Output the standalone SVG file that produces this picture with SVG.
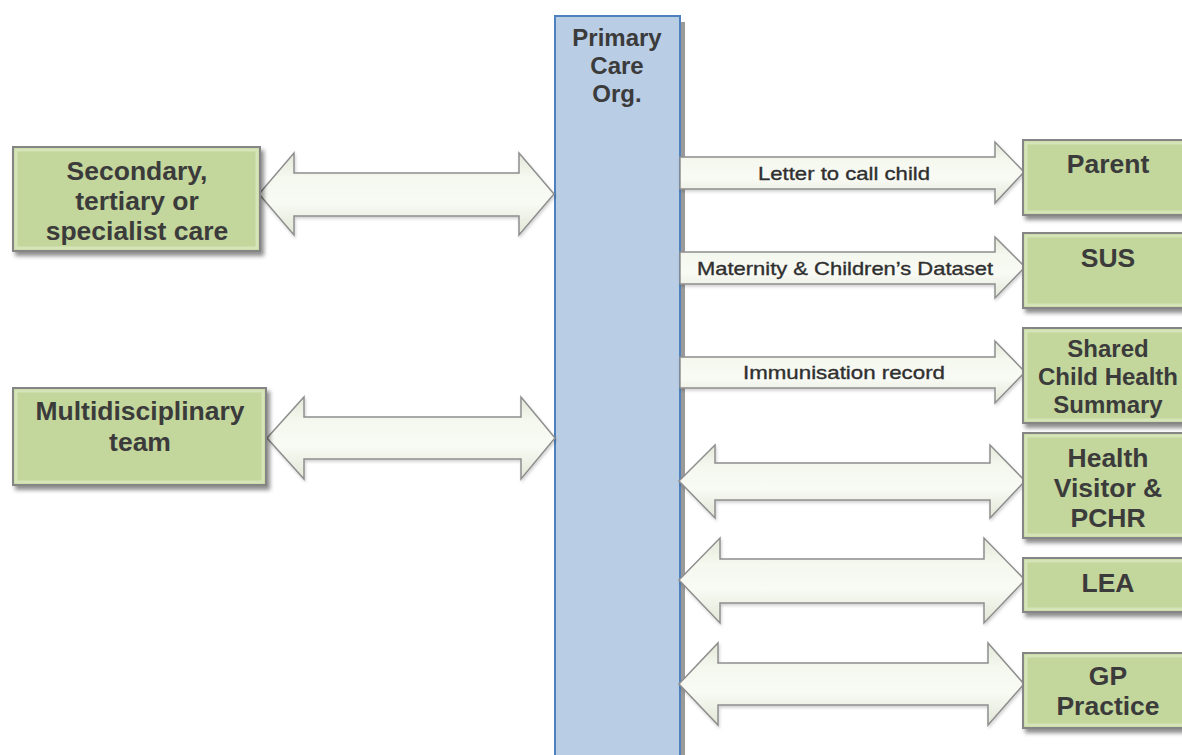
<svg xmlns="http://www.w3.org/2000/svg" width="1182" height="755" viewBox="0 0 1182 755">
  <defs>
    <linearGradient id="arrowFill" x1="0" y1="0" x2="0" y2="1">
      <stop offset="0" stop-color="#e4e9d9"/>
      <stop offset="0.3" stop-color="#f5f8ef"/>
      <stop offset="0.6" stop-color="#f8faf4"/>
      <stop offset="1" stop-color="#e2e7d6"/>
    </linearGradient>
    <filter id="boxShadow" x="-10%" y="-10%" width="125%" height="130%">
      <feDropShadow dx="3" dy="4" stdDeviation="2" flood-color="#000" flood-opacity="0.45"/>
    </filter>
    <filter id="arrowShadow" x="-5%" y="-10%" width="110%" height="130%">
      <feDropShadow dx="1" dy="2" stdDeviation="1.5" flood-color="#000" flood-opacity="0.18"/>
    </filter>
  </defs>
  <style>
    .node { fill: #c3d69b; stroke: #858585; stroke-width: 2; filter: url(#boxShadow); }
    .bevel { fill: none; stroke: #d6e4b9; stroke-width: 3; }
    .pco { fill: #b9cde5; stroke: #4f81bd; stroke-width: 2; }
    .label { font-family: "Liberation Sans", Arial, sans-serif; font-weight: bold; fill: #3b3b3b; text-anchor: middle; }
    .big { font-size: 26.5px; }
    .mid { font-size: 24px; }
    .arrow { fill: url(#arrowFill); stroke: #8e8e8e; stroke-width: 1.5; stroke-linejoin: miter; filter: url(#arrowShadow); }
    .alabel { font-family: "Liberation Sans", Arial, sans-serif; font-size: 19px; fill: #2f2f2f; stroke: #2f2f2f; stroke-width: 0.35; }
  </style>

  <rect width="1182" height="755" fill="#ffffff"/>

  <!-- Primary Care Organisation column -->
  <g id="pco">
    <rect x="680" y="22" width="5" height="740" fill="#9a9a9a"/>
    <rect class="pco" x="555" y="16" width="125" height="750"/>
    <text class="label mid" x="617" y="46">Primary</text>
    <text class="label mid" x="617" y="74">Care</text>
    <text class="label mid" x="617" y="102">Org.</text>
  </g>

  <!-- Connectors -->
  <g id="connectors">
    <path class="arrow" d="M259,194 L294,153 L294,173 L519,173 L519,153 L554,194 L519,235 L519,216 L294,216 L294,235 Z"/>
    <path class="arrow" d="M267,438 L304,397 L304,417 L521,417 L521,397 L555,438 L521,479 L521,459 L304,459 L304,479 Z"/>

    <path class="arrow" d="M680,157 L995,157 L995,142 L1024,172 L995,203 L995,189 L680,189 Z"/>
    <text class="alabel" x="758" y="180" textLength="172" lengthAdjust="spacingAndGlyphs">Letter to call child</text>

    <path class="arrow" d="M680,252 L995,252 L995,237 L1025,267 L995,298 L995,284 L680,284 Z"/>
    <text class="alabel" x="697" y="275" textLength="296" lengthAdjust="spacingAndGlyphs">Maternity &amp; Children’s Dataset</text>

    <path class="arrow" d="M680,357 L995,357 L995,341 L1025,372 L995,403 L995,388 L680,388 Z"/>
    <text class="alabel" x="743" y="379" textLength="202" lengthAdjust="spacingAndGlyphs">Immunisation record</text>

    <path class="arrow" d="M679,481 L715,445 L715,463 L990,463 L990,445 L1025,481 L990,518 L990,500 L715,500 L715,518 Z"/>
    <path class="arrow" d="M679,580 L720,538 L720,559 L984,559 L984,538 L1025,580 L984,623 L984,603 L720,603 L720,623 Z"/>
    <path class="arrow" d="M679,684 L718,643 L718,663 L988,663 L988,643 L1024,684 L988,725 L988,705 L718,705 L718,725 Z"/>
  </g>

  <!-- Left-hand nodes -->
  <g id="secondary-care">
    <rect class="node" x="13" y="147" width="247" height="104"/>
    <rect class="bevel" x="16" y="150" width="241" height="98"/>
    <text class="label big" x="137" y="180">Secondary,</text>
    <text class="label big" x="137" y="210">tertiary or</text>
    <text class="label big" x="137" y="240">specialist care</text>
  </g>

  <g id="multidisciplinary-team">
    <rect class="node" x="13" y="388" width="253" height="97"/>
    <rect class="bevel" x="16" y="391" width="247" height="91"/>
    <text class="label big" x="140" y="420">Multidisciplinary</text>
    <text class="label big" x="140" y="451">team</text>
  </g>

  <!-- Right-hand nodes -->
  <g id="parent">
    <rect class="node" x="1023" y="140" width="170" height="75"/>
    <rect class="bevel" x="1026" y="143" width="170" height="69"/>
    <text class="label big" x="1108" y="173">Parent</text>
  </g>

  <g id="sus">
    <rect class="node" x="1023" y="233" width="170" height="75"/>
    <rect class="bevel" x="1026" y="236" width="170" height="69"/>
    <text class="label big" x="1108" y="267">SUS</text>
  </g>

  <g id="shared-child-health-summary">
    <rect class="node" x="1023" y="328" width="170" height="95"/>
    <rect class="bevel" x="1026" y="331" width="170" height="89"/>
    <text class="label mid" x="1108" y="357">Shared</text>
    <text class="label mid" x="1108" y="385">Child Health</text>
    <text class="label mid" x="1108" y="413">Summary</text>
  </g>

  <g id="health-visitor">
    <rect class="node" x="1023" y="433" width="170" height="105"/>
    <rect class="bevel" x="1026" y="436" width="170" height="99"/>
    <text class="label big" x="1108" y="467">Health</text>
    <text class="label big" x="1108" y="497">Visitor &amp;</text>
    <text class="label big" x="1108" y="527">PCHR</text>
  </g>

  <g id="lea">
    <rect class="node" x="1023" y="558" width="170" height="54"/>
    <rect class="bevel" x="1026" y="561" width="170" height="48"/>
    <text class="label big" x="1108" y="592">LEA</text>
  </g>

  <g id="gp-practice">
    <rect class="node" x="1023" y="653" width="170" height="75"/>
    <rect class="bevel" x="1026" y="656" width="170" height="69"/>
    <text class="label big" x="1108" y="685">GP</text>
    <text class="label big" x="1108" y="715">Practice</text>
  </g>
</svg>
